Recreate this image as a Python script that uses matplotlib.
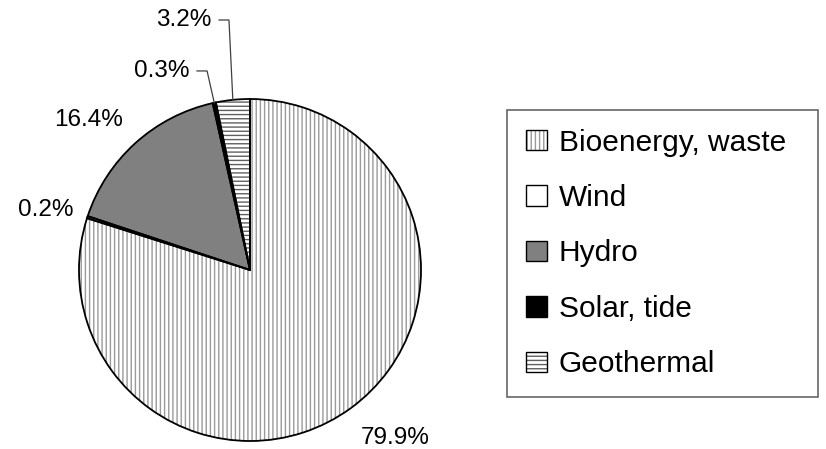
import numpy as np
import matplotlib
matplotlib.use('Agg')
import matplotlib.pyplot as plt
from matplotlib.patches import Patch
from matplotlib.legend_handler import HandlerTuple

plt.rcParams['font.family'] = ['Liberation Sans', 'DejaVu Sans']
plt.rcParams['hatch.linewidth'] = 1.0

# data
sources = ['Bioenergy, waste', 'Wind', 'Hydro', 'Solar, tide', 'Geothermal']
shares = [79.9, 0.2, 16.4, 0.3, 3.2]
labels = ['79.9%', '0.2%', '16.4%', '0.3%', '3.2%']

# styles
face = ['white', 'white', '#808080', 'black', 'white']
hatches = ['||||', None, None, None, '----']
hatch_col = ['#9a9a9a', 'white', '#808080', 'black', '#606060']

fig = plt.figure(figsize=(8.26, 4.49), dpi=100)
ax = fig.add_axes([79 / 826, 8 / 449, 342 / 826, 342 / 449])

# layer 1: fills + hatching (hatch takes edge colour)
w1, _ = ax.pie(shares, startangle=90, counterclock=False, radius=1,
               colors=face, wedgeprops=dict(linewidth=0))
for w, h, c in zip(w1, hatches, hatch_col):
    w.set_edgecolor(c)
    if h:
        w.set_hatch(h)

# layer 2: black outlines
ax.pie(shares, startangle=90, counterclock=False, radius=1,
       colors=['none'] * 5,
       wedgeprops=dict(linewidth=1.3, edgecolor='black', fill=False))
ax.set_xlim(-1, 1)
ax.set_ylim(-1, 1)
ax.set_aspect('equal')

fs = 17.5
mids = [np.deg2rad((w.theta1 + w.theta2) / 2) for w in w1]

# label placement (axes data units, pie radius = 1)
text_pos = {0: (0.848, -0.98), 1: (-1.193, 0.351), 2: (-0.944, 0.880)}
for i, (tx, ty) in text_pos.items():
    ax.text(tx, ty, labels[i], ha='center', va='center', fontsize=fs,
            clip_on=False)

# small wedges: label right edge, leader start, leader corner, level
lead = {3: (-0.351, -0.31, -0.251, 1.164), 4: (-0.228, -0.181, -0.123, 1.462)}
for i, (tr, x0, x1, ty) in lead.items():
    a = mids[i]
    ax.plot([x0, x1, np.cos(a)], [ty, ty, np.sin(a)], color='#404040',
            lw=0.9, clip_on=False)
    ax.text(tr, ty, labels[i], ha='right', va='center', fontsize=fs,
            clip_on=False)

# legend
handles = []
for i in range(5):
    p1 = Patch(facecolor=face[i], edgecolor=hatch_col[i], hatch=hatches[i], linewidth=0)
    p2 = Patch(facecolor='none', edgecolor='black', linewidth=1.0)
    handles.append((p1, p2))
leg = fig.legend(handles, sources, loc='upper left', mode='expand',
                 bbox_to_anchor=(507 / 826, 1 - 110 / 449, 311 / 826, 0),
                 borderaxespad=0, fontsize=21.5,
                 handler_map={tuple: HandlerTuple(ndivide=1)},
                 handlelength=0.72, handleheight=0.68, handletextpad=0.4,
                 labelspacing=0.92, borderpad=0.62, fancybox=False)
leg.get_frame().set_edgecolor('#404040')
leg.get_frame().set_linewidth(1.2)

fig.savefig('out.png', dpi=100)
